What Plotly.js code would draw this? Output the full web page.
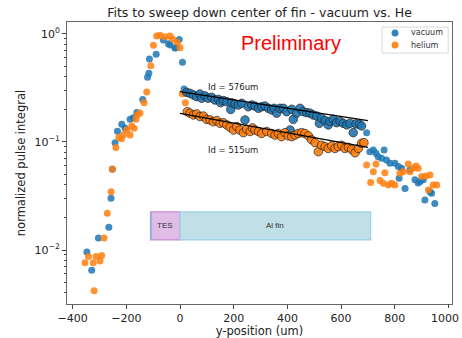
<!DOCTYPE html>
<html>
<head>
<meta charset="utf-8">
<script src="https://cdn.plot.ly/plotly-3.0.1.min.js"></script>
<style>html,body{margin:0;padding:0;background:#fff;overflow:hidden;}#chart{width:462px;height:338px;}</style>
</head>
<body>
<div id="chart"></div>
<script>
// ---- data ----
const seriesNames = ['vacuum', 'helium'];
// full sweep, plain markers
const vacX = [-347,-329,-304,-265,-257,-252,-242,-233,-217,-205,-186,-174,-161,-139,-121,-116,-114,-89,-62,-43,-37,-19,-15,-3,9,15,
  695,707,720,730,738,751,760,769,782,800,813,816,825,838,856,875,887,894,906,912,931,937,949];
const vacY = [0.0096,0.0065,0.0129,0.0162,0.0302,0.056,0.0986,0.126,0.146,0.135,0.162,0.168,0.188,0.248,0.398,0.433,0.587,0.649,0.88,0.81,0.79,0.74,0.746,0.89,0.547,0.309,
  0.122,0.0813,0.0843,0.0785,0.0731,0.0708,0.0843,0.0681,0.0635,0.0635,0.0592,0.0461,0.0570,0.0372,0.0550,0.0447,0.0417,0.0430,0.0447,0.0290,0.0347,0.0335,0.0270];
const heX = [-354,-341,-323,-320,-313,-298,-292,-283,-271,-257,-252,-239,-228,-218,-211,-198,-186,-180,-171,-164,-159,-149,-134,-124,-109,-99,-87,-74,-56,-37,-27,-10,0,8,20,
  695,710,720,730,745,757,763,776,788,800,819,831,850,856,869,879,887,900,916,925,931,943,956];
const heY = [0.0076,0.0087,0.0076,0.0042,0.0087,0.0079,0.0089,0.0129,0.0219,0.0347,0.0562,0.0891,0.11,0.107,0.117,0.129,0.116,0.141,0.134,0.162,0.178,0.186,0.231,0.290,0.509,0.785,0.957,0.973,0.944,0.957,0.893,0.832,0.746,0.28,0.231,
  0.0612,0.0421,0.0531,0.0625,0.0439,0.0414,0.0520,0.0400,0.0414,0.0400,0.0513,0.0531,0.0625,0.0531,0.0570,0.0600,0.0570,0.0479,0.0484,0.0360,0.0494,0.0400,0.0400];
// points used in the fits (edged markers)
const vacFitX = [25,37,50,62,74,81,93,105,118,130,143,151,161,174,189,192,205,217,230,242,254,267,279,292,304,316,329,341,350,360,372,385,397,410,416,422,434,447,459,472,484,496,509,519,527,540,552,558,571,583,596,608,621,633,645,655,668,676];
const vacFitY = [0.288,0.282,0.272,0.263,0.278,0.254,0.267,0.254,0.259,0.245,0.248,0.231,0.242,0.236,0.200,0.231,0.225,0.220,0.228,0.160,0.212,0.220,0.215,0.205,0.212,0.215,0.205,0.198,0.205,0.185,0.205,0.205,0.191,0.129,0.201,0.162,0.185,0.205,0.191,0.187,0.185,0.178,0.174,0.149,0.166,0.158,0.144,0.155,0.162,0.151,0.155,0.149,0.144,0.149,0.122,0.147,0.146,0.141];
const heFitX = [27,37,50,62,74,87,99,112,124,137,149,161,174,186,199,211,223,236,248,261,270,279,292,304,323,341,354,366,378,391,403,416,428,440,453,465,478,490,503,515,527,540,552,565,577,589,602,614,627,639,652,664,676,685];
const heFitY = [0.191,0.185,0.178,0.182,0.172,0.174,0.162,0.160,0.154,0.158,0.149,0.151,0.144,0.137,0.129,0.139,0.129,0.122,0.131,0.125,0.135,0.129,0.125,0.120,0.125,0.120,0.116,0.120,0.112,0.122,0.114,0.112,0.116,0.120,0.122,0.120,0.114,0.105,0.0986,0.0813,0.0933,0.0906,0.0871,0.0918,0.0871,0.0906,0.0933,0.0871,0.0891,0.0855,0.0794,0.0871,0.0973,0.0986];
// fitted lines (end points)
const fitX = [0, 700];
const vacFitLine = [0.292, 0.158];
const heFitLine = [0.184, 0.089];
const fitLabels = ['Id = 576um', 'Id = 515um'];
// detector regions
const regionNames = ['TES', 'Al fin'];
const regionStart = [-110, 0];
const regionEnd = [0, 710];
const xTicks = [-400,-200,0,200,400,600,800];
const xEdgeTick = 1000;   // last tick, its label sits at the right edge
const yTicks = [1, 0.1, 0.01];
const yTickText = ['10<sup>0</sup>','10<sup>\u22121</sup>','10<sup>\u22122</sup>'];

// ---- styling ----
const BLUE = '#1f77b4', ORANGE = '#ff7f0e';
const COLORS = [BLUE, ORANGE];
const X_RANGE = [-421, 1013];
const minorVals = [];
[0.001,0.01,0.1,1].forEach(d => { for (let k = 2; k <= 9; k++) minorVals.push(k*d); });

const traces = [
  {x: vacX, y: vacY, type:'scatter', mode:'markers', name:seriesNames[0], showlegend:false,
   marker:{color:BLUE, size:7, opacity:0.85}},
  {x: heX, y: heY, type:'scatter', mode:'markers', name:seriesNames[1], showlegend:false,
   marker:{color:ORANGE, size:7, opacity:0.85}},
  {x: vacFitX, y: vacFitY, type:'scatter', mode:'markers', showlegend:false,
   marker:{color:BLUE, size:8.5, opacity:0.9, line:{color:'#222', width:0.8}}},
  {x: heFitX, y: heFitY, type:'scatter', mode:'markers', showlegend:false,
   marker:{color:ORANGE, size:8.5, opacity:0.9, line:{color:'#222', width:0.8}}},
  {x: fitX, y: vacFitLine, type:'scatter', mode:'lines', showlegend:false,
   line:{color:'#000', width:1.3}},
  {x: fitX, y: heFitLine, type:'scatter', mode:'lines', showlegend:false,
   line:{color:'#000', width:1.3}}
];

const BOX_LO = 0.0124, BOX_HI = 0.0225;
const regionFill = ['#e0bde6', '#c0dfe6'];
const regionLine = ['#c58ad0', '#9ccfe2'];
const shapes = [];
const annotations = [];
regionNames.forEach((nm, i) => {
  shapes.push({type:'rect', xref:'x', yref:'y', x0:regionStart[i], x1:regionEnd[i], y0:BOX_LO, y1:BOX_HI,
    fillcolor:regionFill[i], line:{color:regionLine[i], width:1.2}, layer:'below'});
  annotations.push({xref:'x', yref:'y', x:(regionStart[i]+regionEnd[i])/2,
    y:Math.log10(Math.sqrt(BOX_LO*BOX_HI)), text:nm, showarrow:false,
    font:{family:'Liberation Sans, Arial, sans-serif', size:8, color:'#333'}});
});
// thin blue strip at left edge of TES
shapes.push({type:'rect', xref:'x', yref:'y', x0:regionStart[0], x1:regionStart[0]+6, y0:BOX_LO, y1:BOX_HI,
  fillcolor:'#8fb3ea', line:{width:0}, layer:'below'});

// compact legend box (matplotlib style)
shapes.push({type:'rect', xref:'paper', yref:'paper', x0:0.818, x1:0.990, y0:0.890, y1:0.982,
  fillcolor:'rgba(255,255,255,0.9)', line:{color:'#d8d8d8', width:1}});
const legY = [0.961, 0.918];
seriesNames.forEach((nm, i) => {
  shapes.push({type:'circle', xref:'paper', yref:'paper', xsizemode:'pixel', ysizemode:'pixel',
    xanchor:0.852, yanchor:legY[i], x0:-3.5, x1:3.5, y0:-3.5, y1:3.5,
    fillcolor:COLORS[i], opacity:0.9, line:{width:0}});
  annotations.push({xref:'paper', yref:'paper', x:0.889, y:legY[i], xanchor:'left', yanchor:'middle',
    text:nm, showarrow:false, font:{family:'DejaVu Sans, sans-serif', size:8, color:'#333'}});
});

// last x tick (mark + label)
const edgeFrac = (xEdgeTick - X_RANGE[0]) / (X_RANGE[1] - X_RANGE[0]);
shapes.push({type:'line', xref:'paper', yref:'paper', x0:edgeFrac, x1:edgeFrac, y0:0, y1:-0.014,
  line:{color:'#444', width:1}});
annotations.push({xref:'paper', yref:'paper', x:1, y:-0.02, xanchor:'right', yanchor:'top', xshift:9,
  text:String(xEdgeTick), showarrow:false, font:{family:'DejaVu Sans, sans-serif', size:11, color:'#222'}});

annotations.push({xref:'x', yref:'y', x:415, y:-0.083, text:'Preliminary', showarrow:false,
  font:{family:'Liberation Sans, Arial, sans-serif', size:20, color:'#ff0000'}});
annotations.push({xref:'x', yref:'y', x:197, y:-0.49, text:fitLabels[0], showarrow:false,
  font:{family:'DejaVu Sans, sans-serif', size:8.5, color:'#222'}});
annotations.push({xref:'x', yref:'y', x:197, y:-1.074, text:fitLabels[1], showarrow:false,
  font:{family:'DejaVu Sans, sans-serif', size:8.5, color:'#222'}});

const layout = {
  width:462, height:338,
  margin:{l:67, r:10, t:22, b:34},
  paper_bgcolor:'#fff', plot_bgcolor:'#fff',
  font:{family:'DejaVu Sans, sans-serif', size:11, color:'#222'},
  title:{text:'Fits to sweep down center of fin - vacuum vs. He', x:0.5, xref:'paper', y:0.962, yanchor:'middle',
    font:{family:'DejaVu Sans, sans-serif', size:12.5, color:'#222'}},
  xaxis:{range:X_RANGE, tickvals:xTicks, ticks:'outside', ticklen:4, tickcolor:'#444',
    showgrid:false, zeroline:false, showline:true, mirror:true, linecolor:'#666', linewidth:1,
    tickfont:{size:11}, title:{text:'y-position (um)', standoff:2, font:{size:11.5}}},
  yaxis:{type:'log', range:[-2.5, 0.111], tickvals:yTicks, ticktext:yTickText, ticks:'outside', ticklen:4, tickcolor:'#444',
    showgrid:false, zeroline:false, showline:true, mirror:true, linecolor:'#666', linewidth:1,
    tickfont:{size:11},
    minor:{tickvals:minorVals, ticks:'outside', ticklen:2, tickcolor:'#444', showgrid:false},
    title:{text:'normalized pulse integral', standoff:6, font:{size:11.5}}},
  shapes:shapes, annotations:annotations, showlegend:false
};
Plotly.newPlot('chart', traces, layout, {staticPlot:true, displayModeBar:false});
</script>
</body>
</html>
